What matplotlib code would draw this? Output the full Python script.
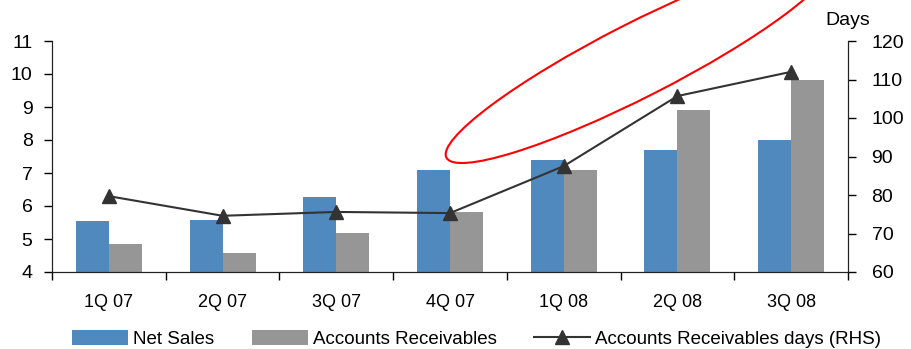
import numpy as np
import matplotlib
matplotlib.use("Agg")
import matplotlib.pyplot as plt
from matplotlib.patches import Ellipse
from matplotlib.transforms import IdentityTransform

plt.rcParams['font.family'] = ['Liberation Sans Narrow', 'Liberation Sans', 'DejaVu Sans']

quarters = ["1Q 07", "2Q 07", "3Q 07", "4Q 07", "1Q 08", "2Q 08", "3Q 08"]
net_sales = [5.55, 5.58, 6.27, 7.09, 7.39, 7.70, 8.00]
receivables = [4.85, 4.57, 5.18, 5.82, 7.09, 8.91, 9.82]
receivable_days = [79.7, 74.6, 75.6, 75.3, 87.5, 105.7, 112.0]

BLUE = "#4f89be"
GREY = "#969696"
LINE = "#333333"

fig = plt.figure(figsize=(9.11, 3.49), dpi=100)
ax = fig.add_axes([52 / 911, 1 - 272 / 349, 796 / 911, 231 / 349])
x = np.arange(len(quarters))
w = 0.29
ax.bar(x - w, net_sales, width=w, align="edge", color=BLUE, label="Net Sales")
ax.bar(x, receivables, width=w, align="edge", color=GREY, label="Accounts Receivables")
ax.set_ylim(4, 11)
ax.set_xlim(-0.5, len(quarters) - 0.5)
ax.set_yticks(range(4, 12))
ax.set_xticks(x)
ax.set_xticklabels(quarters)
ax.set_xticks(np.arange(-0.5, len(quarters)), minor=True)
ax.tick_params(axis="x", which="major", length=0, pad=16, labelsize=13)
ax.tick_params(axis="x", which="minor", length=6, width=1, direction="out")
ax.tick_params(axis="y", length=6, width=1, pad=8, labelsize=14)
ax.spines["top"].set_visible(False)

ax2 = ax.twinx()
ax2.plot(x, receivable_days, color=LINE, lw=1.5, marker="^", ms=10,
         label="Accounts Receivables days (RHS)")
ax2.set_ylim(60, 120)
ax2.set_yticks(range(60, 121, 10))
ax2.tick_params(axis="y", length=6, width=1, pad=11, labelsize=14)
ax2.spines["top"].set_visible(False)
for a in (ax, ax2):
    for s in a.spines.values():
        s.set_color("#222222")
ax2.text(1.0, 1.09, "Days", transform=ax2.transAxes, ha="center", va="center", fontsize=14)

# red highlight ring (drawn in pixel space)
ring = Ellipse((638, 349 - 60), 430, 74, angle=27, fill=False, edgecolor="red",
               lw=1.5, transform=IdentityTransform())
ring.set_clip_on(False)
fig.patches.append(ring)

h1, l1 = ax.get_legend_handles_labels()
h2, l2 = ax2.get_legend_handles_labels()
fig.legend(h1 + h2, l1 + l2, ncol=3, loc="center", bbox_to_anchor=(0.523, 1 - 339 / 349),
           frameon=False, fontsize=13.5, handlelength=3.0, handletextpad=0.25,
           columnspacing=2.0, handleheight=0.9)

fig.savefig("out.png", dpi=100)
